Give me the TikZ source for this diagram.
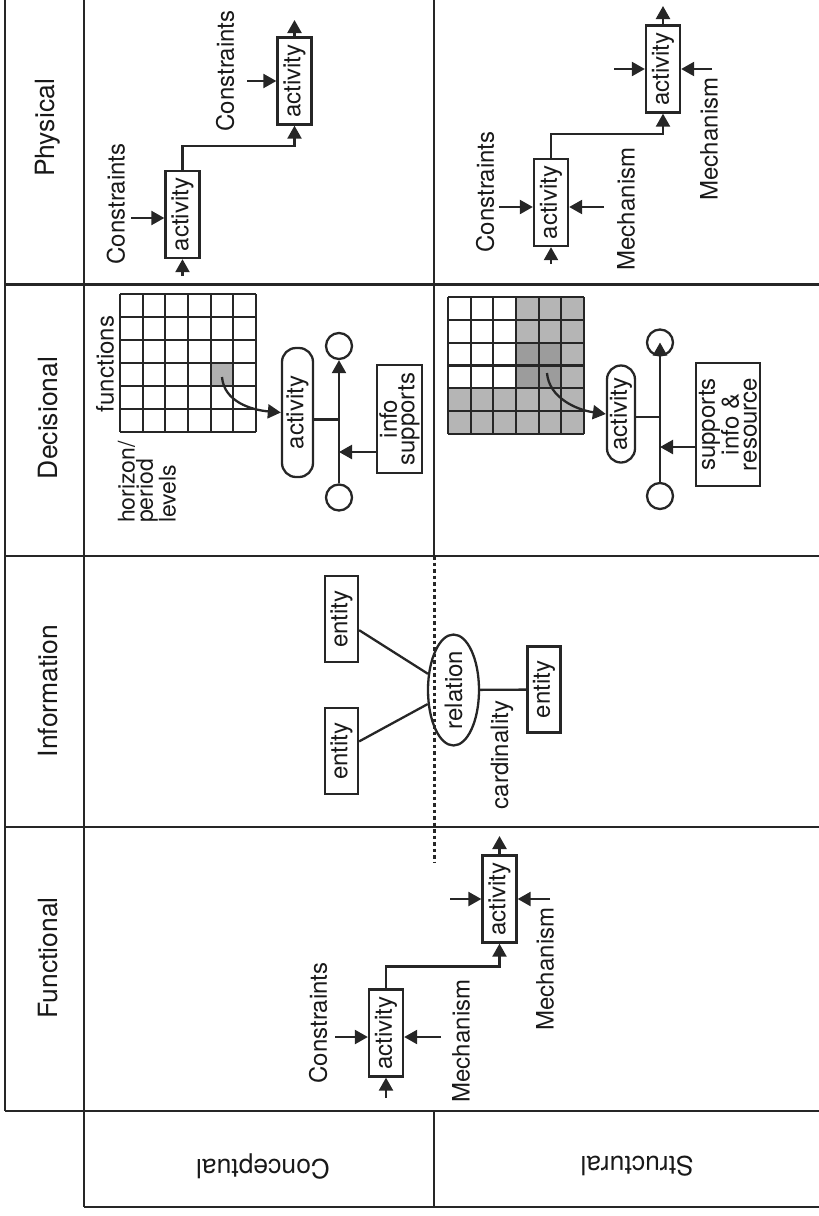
\documentclass[tikz,border=0pt]{standalone}
\usepackage{fontspec}
\setmainfont{TeX Gyre Heros}
\usetikzlibrary{arrows.meta,shapes.geometric}

\begin{document}
\begin{tikzpicture}[x=1pt,y=-1pt,
  frame/.style={line width=2.6pt, color=black!85},
  conn/.style={line width=2.3pt, color=black!85},
  arr/.style={conn,-{Triangle[length=13pt,width=14pt]}},
  body/.style={font=\fontsize{24}{24}\selectfont, inner sep=0pt, text=black!90},
  vlabel/.style={body, rotate=90},
  head/.style={font=\fontsize{26.5}{26.5}\selectfont, inner sep=0pt, text=black!90},
  boxline/.style={draw=black!85, line width=2.3pt},
  actbox/.style={vlabel, boxline, minimum width=87pt, minimum height=34pt},
  entbox/.style={vlabel, boxline, minimum width=86pt, minimum height=33pt},
  pill/.style={vlabel, boxline, rounded corners=14pt},
  endpt/.style={boxline, circle, minimum size=26pt, inner sep=0pt},
]
\useasboundingbox (0,0) rectangle (819,1216);

% ---------- table rules ----------
\draw[frame] (5,0) -- (5,1111);
\draw[frame] (84,0) -- (84,1207);
\draw[frame] (434,0) -- (434,556);
\draw[frame] (434,1111) -- (434,1207);
\draw[frame] (5,284.5) -- (819,284.5);
\draw[frame] (5,556) -- (819,556);
\draw[frame] (5,827) -- (819,827);
\draw[frame] (5,1111) -- (819,1111);
\draw[frame] (84,1207) -- (819,1207);
\draw[black!85, line width=3pt, dash pattern=on 3.5pt off 3pt] (434,556) -- (434,862);

% ---------- headings ----------
\node[head, rotate=90] (hphys) at (48,128) {Physical};
\node[head, rotate=90] (hdec)  at (48,418) {Decisional};
\node[head, rotate=90] (hinf)  at (48,691) {Information};
\node[head, rotate=90] (hfun)  at (48,958) {Functional};
\node[head, rotate=180] (hcon) at (263,1166) {Conceptual};
\node[head, rotate=180] (hstr) at (637,1166) {Structural};

% ---------- physical / conceptual ----------
\node[actbox] (b1) at (182.5,214.5) {activity};
\node[actbox] (b2) at (294.5,81) {activity};
\coordinate (b1in) at (182.5,276);
\draw[arr] (b1in) -- (b1.west);
\coordinate (b1l) at (131,218);
\draw[arr] (b1l) -- (b1l -| b1.north);
\draw[arr] (b1.east) -- ++(0,-24) -| (b2.west);
\coordinate (b2out) at (294.5,20);
\draw[arr] (b2.east) -- (b2out);
\coordinate (b2l) at (247,81);
\draw[arr] (b2l) -- (b2l -| b2.north);
\node[vlabel] (t1) at (116,204) {Constraints};
\node[vlabel] (t2) at (225,71) {Constraints};

% ---------- physical / structural ----------
\node[actbox] (b3) at (551,202.5) {activity};
\node[actbox] (b4) at (663,69) {activity};
\coordinate (b3in) at (551,264);
\draw[arr] (b3in) -- (b3.west);
\coordinate (b3l) at (499,207);
\draw[arr] (b3l) -- (b3l -| b3.north);
\coordinate (b3r) at (604,207);
\draw[arr] (b3r) -- (b3r -| b3.south);
\draw[arr] (b3.east) -- ++(0,-24) -| (b4.west);
\coordinate (b4out) at (663,6);
\draw[arr] (b4.east) -- (b4out);
\coordinate (b4l) at (614,69);
\draw[arr] (b4l) -- (b4l -| b4.north);
\coordinate (b4r) at (712,69);
\draw[arr] (b4r) -- (b4r -| b4.south);
\node[vlabel] (t3) at (485,192) {Constraints};
\node[vlabel] (t4) at (626,209) {Mechanism};
\node[vlabel] (t5) at (709,139) {Mechanism};

% ---------- decisional / conceptual ----------
\fill[gray!62] ({120+4*22.667},{294+3*23}) rectangle ({120+5*22.667},{294+4*23});
\foreach \i in {0,...,6} {
  \draw[conn] ({120+\i*22.667},294) -- ({120+\i*22.667},432);
  \draw[conn] (120,{294+\i*23}) -- (256,{294+\i*23});
}
\node[vlabel] (fn) at (105,364) {functions};
\node[vlabel, font=\fontsize{23}{16.5}\selectfont, align=left] (hz) at (147,482) {horizon/\\period\\levels};
\node[pill, minimum width=129pt, minimum height=31pt] (p1) at (297.5,412.5) {activity};
\coordinate (g1) at (222,377);
\draw[arr] (g1) .. controls (224,402) and (252,410) .. (p1.north);
\node[endpt] (o1t) at (339,346) {};
\node[endpt] (o1b) at (339,497.5) {};
\draw[arr] (o1b) -- (o1t);
\coordinate (j1) at ([yshift=-7pt]p1.south);
\draw[conn] (j1) -- (j1 -| o1t);
\node[vlabel, boxline, minimum width=108pt, minimum height=45pt,
      font=\fontsize{24}{15}\selectfont, align=center] (ib) at (399.5,419) {info\\supports};
\coordinate (s1) at ([yshift=-33pt]ib.north);
\draw[arr] (s1) -- (s1 -| o1t);

% ---------- decisional / structural ----------
\fill[gray!58] ({448+3*22.667},297) rectangle (584,{297+4*22.83});
\fill[gray!58] (448,{297+4*22.83}) rectangle (584,434);
\fill[gray!78] ({448+3*22.667},{297+2*22.83}) rectangle ({448+5*22.667},{297+4*22.83});
\foreach \i in {0,...,6} {
  \draw[conn] ({448+\i*22.667},297) -- ({448+\i*22.667},434);
  \draw[conn] (448,{297+\i*22.83}) -- (584,{297+\i*22.83});
}
\node[pill, minimum width=97pt, minimum height=28pt] (p2) at (621,414) {activity};
\coordinate (g2) at (547,373);
\draw[arr] (g2) .. controls (549,398) and (577,410) .. (p2.north);
\node[endpt] (o2t) at (660,342.5) {};
\node[endpt] (o2b) at (660,496) {};
\draw[arr] (o2b) -- (o2t.center);
\coordinate (j2) at ([yshift=-3pt]p2.south);
\draw[conn] (j2) -- (j2 -| o2t);
\node[vlabel, boxline, minimum width=123pt, minimum height=64pt,
      font=\fontsize{24}{18}\selectfont, align=center] (sb) at (728,424.5) {supports\\info \&\\resource};
\coordinate (s2) at ([yshift=-22.5pt]sb.north);
\draw[arr] (s2) -- (s2 -| o2t);

% ---------- information ----------
\node[entbox] (e1) at (341.5,619) {entity};
\node[entbox] (e2) at (341.5,751) {entity};
\node[vlabel, boxline, ellipse, minimum width=108pt, minimum height=51pt] (rel) at (453.5,690) {relation};
\node[entbox] (e3) at (544,689.5) {entity};
\draw[conn] (e1) -- (rel);
\draw[conn] (e2) -- (rel);
\draw[conn] (rel) -- (e3);
\node[vlabel] (card) at (502,755) {cardinality};

% ---------- functional ----------
\node[actbox] (bA) at (386,1033) {activity};
\node[actbox] (bB) at (499.5,899) {activity};
\coordinate (bAin) at (386,1098);
\draw[arr] (bAin) -- (bA.west);
\coordinate (bAl) at (335,1037);
\draw[arr] (bAl) -- (bAl -| bA.north);
\coordinate (bAr) at (441,1037);
\draw[arr] (bAr) -- (bAr -| bA.south);
\draw[arr] (bA.east) -- ++(0,-22) -| (bB.west);
\coordinate (bBout) at (499.5,836);
\draw[arr] (bB.east) -- (bBout);
\coordinate (bBl) at (450,899);
\draw[arr] (bBl) -- (bBl -| bB.north);
\coordinate (bBr) at (550,899);
\draw[arr] (bBr) -- (bBr -| bB.south);
\node[vlabel] (t6) at (318,1023) {Constraints};
\node[vlabel] (t7) at (461,1041) {Mechanism};
\node[vlabel] (t8) at (545,969) {Mechanism};
\end{tikzpicture}
\end{document}
